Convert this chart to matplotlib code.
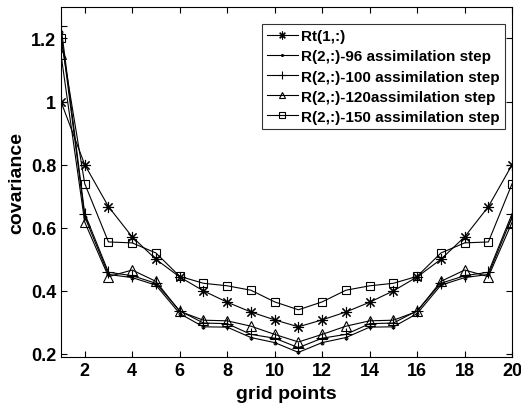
import matplotlib.pyplot as plt
import numpy as np

plt.rcParams['font.family'] = ['Liberation Sans', 'DejaVu Sans']

grid = np.arange(1, 21)

rt = [1.0, 0.8, 0.667, 0.571, 0.5, 0.444, 0.4, 0.364, 0.333, 0.308,
      0.286, 0.308, 0.333, 0.364, 0.4, 0.444, 0.5, 0.571, 0.667, 0.8]
r96 = [1.22, 0.635, 0.452, 0.442, 0.418, 0.328, 0.286, 0.285, 0.252, 0.236,
       0.205, 0.236, 0.252, 0.285, 0.286, 0.328, 0.418, 0.442, 0.452, 0.635]
r100 = [1.24, 0.645, 0.459, 0.448, 0.424, 0.337, 0.298, 0.296, 0.262, 0.25,
        0.22, 0.25, 0.262, 0.296, 0.298, 0.337, 0.424, 0.448, 0.459, 0.645]
r120 = [1.15, 0.618, 0.445, 0.466, 0.43, 0.335, 0.307, 0.305, 0.288, 0.262,
        0.238, 0.262, 0.288, 0.305, 0.307, 0.335, 0.43, 0.466, 0.445, 0.618]
r150 = [1.2, 0.74, 0.555, 0.552, 0.52, 0.446, 0.424, 0.416, 0.402, 0.365,
        0.34, 0.365, 0.402, 0.416, 0.424, 0.446, 0.52, 0.552, 0.555, 0.74]

labels = ['Rt(1,:)', 'R(2,:)-96 assimilation step', 'R(2,:)-100 assimilation step',
          'R(2,:)-120assimilation step', 'R(2,:)-150 assimilation step']

fig, ax = plt.subplots(figsize=(5.21, 4.14), dpi=100)
fig.subplots_adjust(left=0.117, right=0.983, top=0.981, bottom=0.135)

kw = dict(color='black', lw=0.8, mfc='none', mec='black', mew=0.8)
ax.plot(grid, rt, marker=(8, 2, 0), ms=8, label=labels[0], **kw)
ax.plot(grid, r96, marker='.', ms=4, label=labels[1], **kw)
ax.plot(grid, r100, marker='+', ms=9, label=labels[2], **kw)
ax.plot(grid, r120, marker='^', ms=7, label=labels[3], **kw)
ax.plot(grid, r150, marker='s', ms=6, label=labels[4], **kw)

ax.set_xlim(1, 20)
ax.set_ylim(0.19, 1.3)
ax.set_xticks(np.arange(2, 21, 2))
ax.set_yticks([0.2, 0.4, 0.6, 0.8, 1.0, 1.2])
ax.set_yticklabels(['0.2', '0.4', '0.6', '0.8', '1', '1.2'])
ax.tick_params(direction='in', top=True, right=True, length=4, width=0.8,
               labelsize=13)
for t in ax.get_xticklabels() + ax.get_yticklabels():
    t.set_fontweight('bold')
for s in ax.spines.values():
    s.set_linewidth(0.8)

ax.set_xlabel('grid points', fontsize=14, fontweight='bold', labelpad=4)
ax.set_ylabel('covariance', fontsize=14, fontweight='bold', labelpad=4)

leg = ax.legend(loc='upper right', bbox_to_anchor=(0.99, 0.96), fancybox=False,
                edgecolor='black', handlelength=2.0, handletextpad=0.2,
                borderpad=0.35, labelspacing=0.4, borderaxespad=0.2,
                markerscale=0.7, prop={'weight': 'bold', 'size': 11})
leg.get_frame().set_linewidth(0.8)

fig.savefig('out.png', dpi=100)
